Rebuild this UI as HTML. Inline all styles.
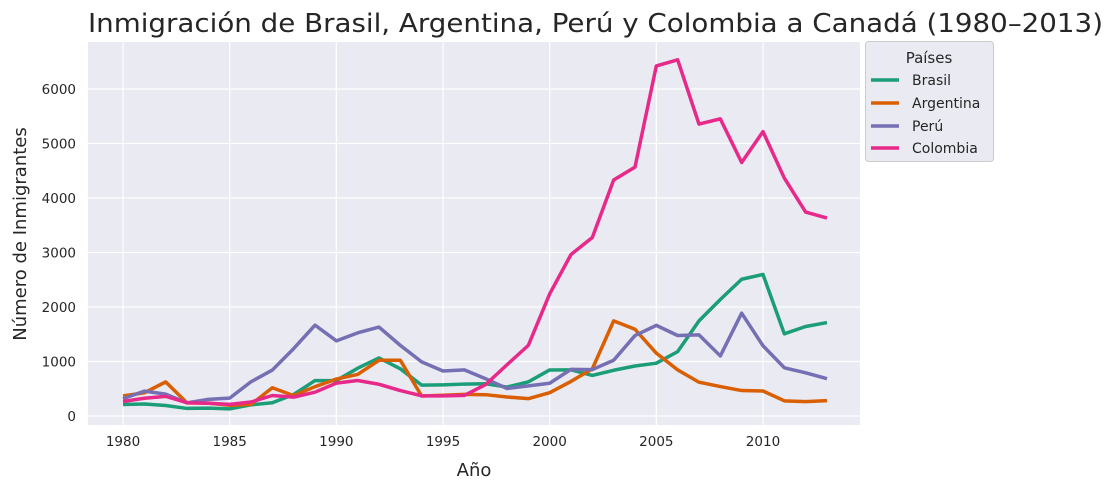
<!DOCTYPE html>
<html><head><meta charset="utf-8"><style>body{margin:0;background:#fff}svg{display:block}text{font-family:"DejaVu Sans","Liberation Sans",sans-serif;fill:#262626}</style></head>
<body><svg width="1115" height="489" xmlns="http://www.w3.org/2000/svg">
<rect x="88" y="42" width="772" height="383" fill="#eaeaf2"/>
<g stroke="#fff" stroke-width="1.2" id="grid"></g>
<g id="ticks" font-size="13.5"></g>
<g id="lines" fill="none" stroke-width="3.5" stroke-linejoin="round"></g>
<text x="88" y="32" font-size="26" textLength="1015" lengthAdjust="spacingAndGlyphs">Inmigración de Brasil, Argentina, Perú y Colombia a Canadá (1980–2013)</text>
<text x="474" y="476" font-size="18" text-anchor="middle">Año</text>
<text transform="translate(26,234) rotate(-90)" font-size="18" text-anchor="middle">Número de Inmigrantes</text>
<rect x="865.5" y="41.5" width="128" height="120" rx="3" fill="#eaeaf2" stroke="#ccc"/>
<text x="929" y="63" font-size="15" text-anchor="middle">Países</text>
<g stroke-width="3.5">
<line x1="871" y1="80" x2="899" y2="80" stroke="#1b9e77"/><line x1="871" y1="103" x2="899" y2="103" stroke="#d95f02"/>
<line x1="871" y1="126" x2="899" y2="126" stroke="#7570b3"/><line x1="871" y1="148" x2="899" y2="148" stroke="#e7298a"/></g>
<g font-size="14"><text x="912" y="85">Brasil</text><text x="912" y="108">Argentina</text><text x="912" y="131">Perú</text><text x="912" y="153">Colombia</text></g>
</svg>
<script>
const X=y=>123+21.333*(y-1980),Y=v=>416-v*0.0545,ns="http://www.w3.org/2000/svg";
const g=document.getElementById('grid'),t=document.getElementById('ticks'),L=document.getElementById('lines');
function el(p,n,a,txt){const e=document.createElementNS(ns,n);for(const k in a)e.setAttribute(k,a[k]);if(txt)e.textContent=txt;p.appendChild(e);}
for(let y=1980;y<=2010;y+=5){el(g,'line',{x1:X(y),x2:X(y),y1:42,y2:425});el(t,'text',{x:X(y),y:446,'text-anchor':'middle'},''+y);}
for(let v=0;v<=6000;v+=1000){el(g,'line',{x1:88,x2:860,y1:Y(v),y2:Y(v)});el(t,'text',{x:76,y:Y(v)+5,'text-anchor':'end'},''+v);}
const D={'#1b9e77':[211,220,192,139,145,130,205,244,394,650,650,877,1066,866,566,572,586,591,531,626,845,847,745,839,917,969,1181,1746,2138,2509,2598,1508,1642,1714],
'#d95f02':[368,426,626,241,237,196,213,519,374,538,678,763,1023,1022,366,380,396,391,349,318,427,635,865,1745,1591,1153,847,620,540,467,459,278,263,282],
'#7570b3':[317,456,401,241,306,328,628,843,1237,1667,1379,1526,1631,1296,993,826,846,683,505,553,601,856,852,1023,1476,1663,1477,1489,1102,1886,1289,885,793,684],
'#e7298a':[266,326,360,244,235,214,257,376,346,437,604,652,582,467,370,370,378,577,940,1296,2240,2963,3276,4330,4566,6424,6535,5357,5452,4652,5218,4366,3741,3631]};
for(const c in D)el(L,'polyline',{stroke:c,points:D[c].map((v,i)=>X(1980+i)+','+Y(v)).join(' ')});
</script></body></html>
